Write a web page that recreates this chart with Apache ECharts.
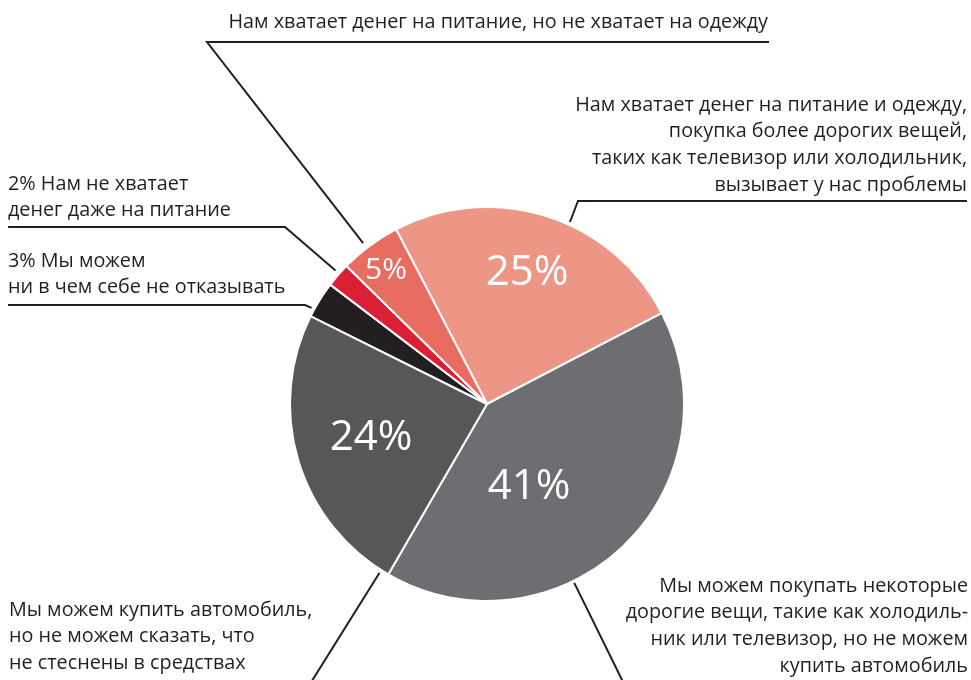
<!DOCTYPE html>
<html>
<head>
<meta charset="utf-8">
<script src="https://cdn.jsdelivr.net/npm/echarts@6/dist/echarts.min.js"></script>
<style>
  html, body { margin: 0; padding: 0; background: #fff; }
  #main { width: 971px; height: 680px; }
</style>
</head>
<body>
<div id="main"></div>
<script>
// данные
var categories = [
  'Нам хватает денег на питание и одежду,\nпокупка более дорогих вещей,\nтаких как телевизор или холодильник,\nвызывает у нас проблемы',
  'Мы можем покупать некоторые\nдорогие вещи, такие как холодиль-\nник или телевизор, но не можем\nкупить автомобиль',
  'Мы можем купить автомобиль,\nно не можем сказать, что\nне стеснены в средствах',
  'Мы можем\nни в чем себе не отказывать',
  'Нам не хватает\nденег даже на питание',
  'Нам хватает денег на питание, но не хватает на одежду'
];
var shares = [25, 41, 24, 3, 2, 5];
var colors = ['#EE9686', '#6D6E71', '#565759', '#231F20', '#DD1F36', '#E86C5F'];
// у маленьких долей процент пишется в подписи, а не внутри
var inside = [true, true, true, false, false, true];

// геометрия круга
var CX = 487, CY = 404, R = 197;
var FS = 19.8, LH = 26.7;
var INK = '#231F20';

function polar(deg, r) {
  var a = deg * Math.PI / 180;
  return [CX + r * Math.cos(a), CY - r * Math.sin(a)];
}

// размещение подписей: край текста, базовая линия первой строки, выноска
var callouts = [
  { x: 967, base: 112, align: 'right', angle: 65.5, r0: 200, pts: [[578, 201], [967, 201]] },
  { x: 968, base: 593, align: 'right', angle: -64, r0: 199, pts: [[628, 692]] },
  { x: 9, base: 617, align: 'left', angle: -122.5, r0: 200, pts: [[310, 684]] },
  { x: 8, base: 268, align: 'left', angle: 151.3, r0: 200, pts: [[305, 305], [8, 305]] },
  { x: 8, base: 191, align: 'left', angle: 138.6, r0: 202, pts: [[285, 227], [8, 227]] },
  { x: 768, base: 29, align: 'right', angle: 127.6, r0: 203, pts: [[207, 42], [769, 42]] }
];
// центры процентов внутри секторов
var pctPos = [[527, 273], [529, 487], [371, 438], null, null, [386, 270]];
var pctSize = [42, 42, 42, 0, 0, 30];

var myChart = echarts.init(document.getElementById('main'));

var pieData = shares.map(function (v, i) {
  return {
    value: v,
    name: categories[i],
    itemStyle: { color: colors[i] },
    label: { show: inside[i], fontSize: pctSize[i] || 12 }
  };
});

var calloutData = shares.map(function (v, i) {
  return { value: v, name: categories[i] };
});

var option = {
  backgroundColor: '#fff',
  animation: false,
  series: [{
    type: 'pie',
    center: [CX, CY],
    radius: R,
    startAngle: 117.5,
    clockwise: true,
    avoidLabelOverlap: false,
    silent: true,
    itemStyle: { borderColor: '#fff', borderWidth: 2 },
    label: {
      position: 'inside',
      formatter: '{c}%',
      color: '#fff',
      fontFamily: 'Open Sans',
      fontWeight: 'normal'
    },
    labelLine: { show: false },
    labelLayout: function (params) {
      var p = pctPos[params.dataIndex];
      if (!p) return {};
      return { x: p[0], y: p[1], align: 'center', verticalAlign: 'middle' };
    },
    data: pieData
  }, {
    type: 'pie',
    center: [CX, CY],
    radius: R,
    startAngle: 117.5,
    clockwise: true,
    avoidLabelOverlap: false,
    silent: true,
    itemStyle: { color: 'rgba(0,0,0,0)', borderWidth: 0 },
    label: {
      position: 'outside',
      overflow: 'none',
      color: INK,
      fontFamily: 'Open Sans',
      fontSize: FS,
      lineHeight: LH,
      formatter: function (p) {
        return inside[p.dataIndex] ? p.name : p.value + '% ' + p.name;
      }
    },
    labelLine: {
      show: true,
      length: 20,
      length2: 20,
      lineStyle: { color: INK, width: 2 }
    },
    labelLayout: function (params) {
      var c = callouts[params.dataIndex];
      var pts = [polar(c.angle, c.r0)].concat(c.pts);
      return {
        x: c.x,
        y: c.base - (LH / 2 + 0.35 * FS),
        align: c.align,
        verticalAlign: 'top',
        labelLinePoints: pts
      };
    },
    data: calloutData
  }]
};

myChart.setOption(option);
</script>
</body>
</html>
